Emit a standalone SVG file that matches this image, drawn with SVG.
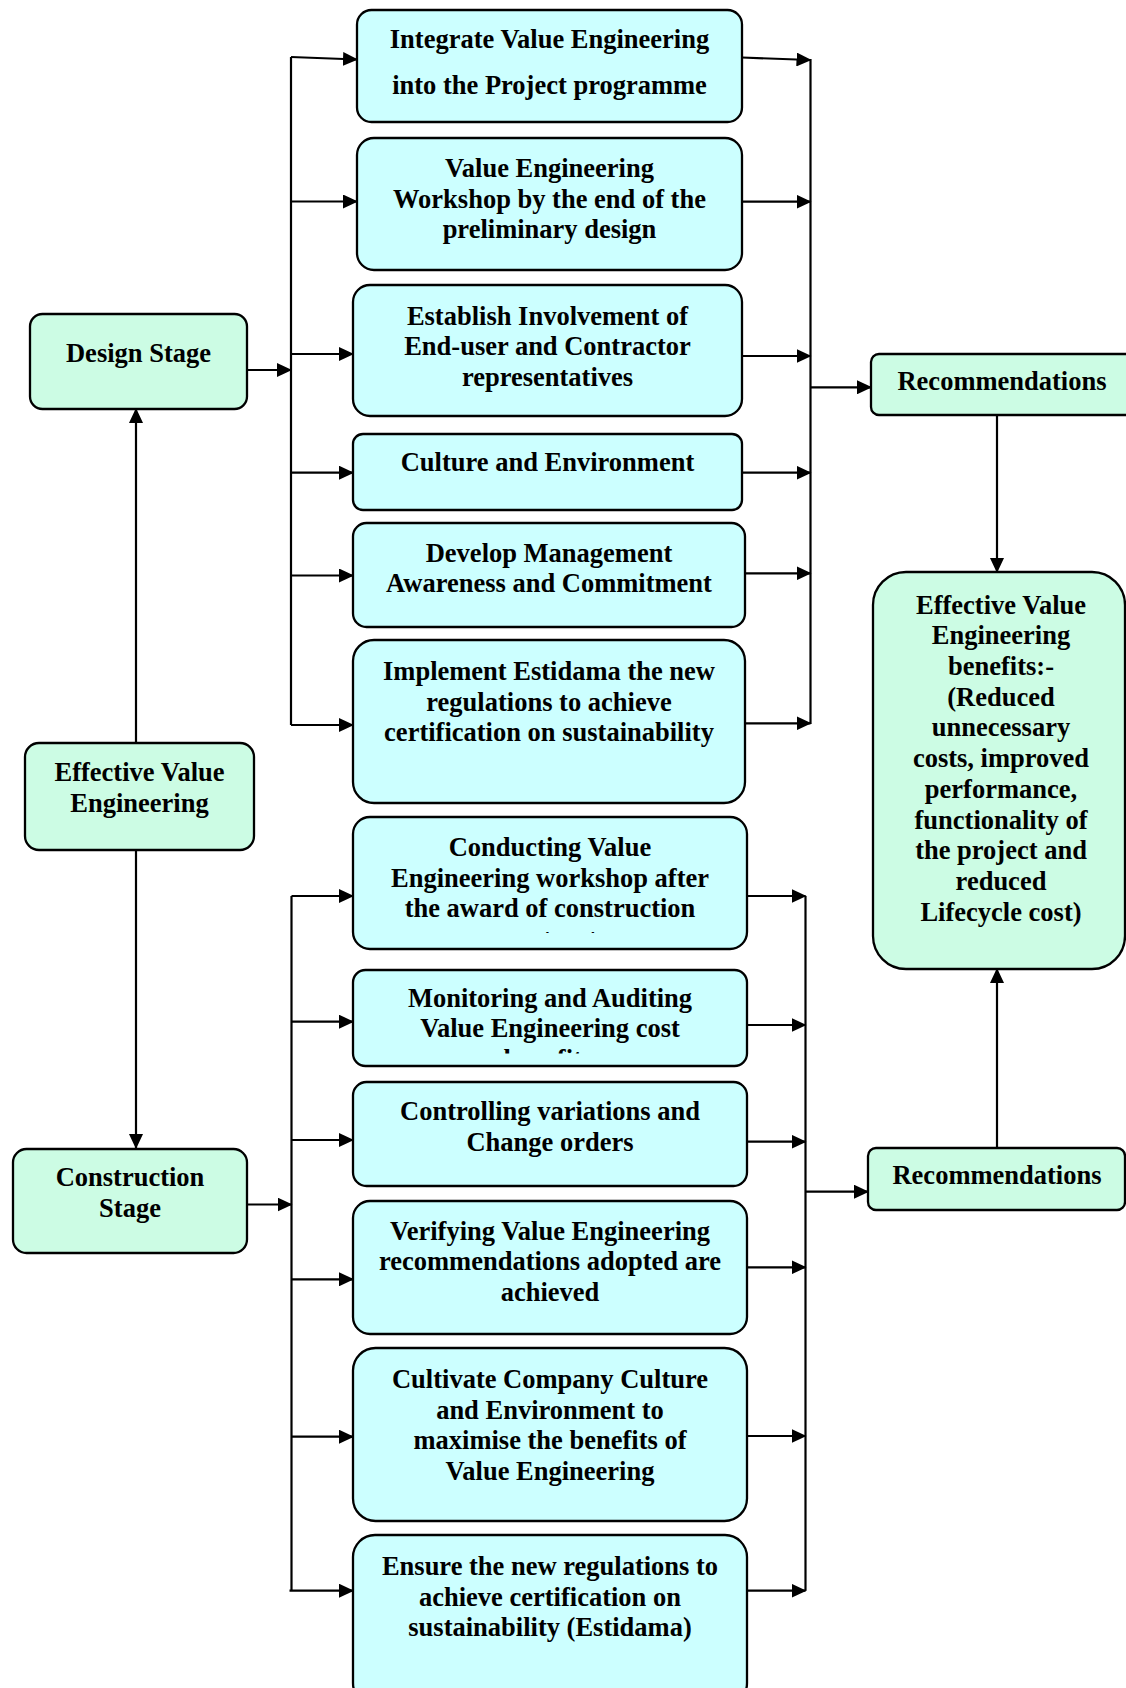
<svg xmlns="http://www.w3.org/2000/svg" width="1126" height="1688" viewBox="0 0 1126 1688">
  <defs>
    <style>
      .stage { fill: #CCFCE4; stroke: #000; stroke-width: 2.3; }
      .step { fill: #CCFFFF; stroke: #000; stroke-width: 2.3; }
      .lbl { font-family: "Liberation Serif", "Times New Roman", serif; font-weight: bold; font-size: 26.5px; fill: #000; text-anchor: middle; }
      .wire { fill: none; stroke: #000; stroke-width: 2.2; }
      .arrow { fill: none; stroke: #000; stroke-width: 2.2; marker-end: url(#head); }
    </style>
    <marker id="head" markerUnits="userSpaceOnUse" markerWidth="15" markerHeight="14" refX="14" refY="7" orient="auto">
      <path d="M0,0 L15,7 L0,14 Z" fill="#000"/>
    </marker>
    <!-- text that runs past the bottom of its box is cut off just above the x-height -->
    <clipPath id="clip-conducting"><rect x="353" y="817" width="394" height="116"/></clipPath>
    <clipPath id="clip-monitoring"><rect x="353" y="970" width="394" height="83.5"/></clipPath>
  </defs>

  <rect width="1126" height="1688" fill="#fff"/>

  <!-- connectors -->
  <g id="connectors">
    <!-- central hub to the two stages -->
    <path class="arrow" d="M136,743 V409"/>
    <path class="arrow" d="M136,850 V1148"/>

    <!-- design stage fan-out -->
    <path class="arrow" d="M247,370 H291"/>
    <path class="wire" d="M291,57 V725"/>
    <path class="arrow" d="M291,57 L357,59.5"/>
    <path class="arrow" d="M291,201.5 H357"/>
    <path class="arrow" d="M291,354 H353"/>
    <path class="arrow" d="M291,472.7 H353"/>
    <path class="arrow" d="M291,575.5 H353"/>
    <path class="arrow" d="M291,725 H353"/>

    <!-- design stage fan-in -->
    <path class="wire" d="M810.5,59 V724"/>
    <path class="arrow" d="M742,57.5 L810.5,60"/>
    <path class="arrow" d="M742,201.7 H810.5"/>
    <path class="arrow" d="M742,356 H810.5"/>
    <path class="arrow" d="M742,472.7 H810.5"/>
    <path class="arrow" d="M745,573.3 H810.5"/>
    <path class="arrow" d="M745,723.3 H810.5"/>
    <path class="arrow" d="M810.5,387.3 H871"/>
    <path class="arrow" d="M997,415 V572"/>

    <!-- construction stage fan-out -->
    <path class="arrow" d="M247,1204.5 H291.5"/>
    <path class="wire" d="M291.5,896 V1590.7"/>
    <path class="arrow" d="M291.5,896 H353"/>
    <path class="arrow" d="M291.5,1021.7 H353"/>
    <path class="arrow" d="M291.5,1140 H353"/>
    <path class="arrow" d="M291.5,1279.3 H353"/>
    <path class="arrow" d="M291.5,1436.7 H353"/>
    <path class="arrow" d="M289.5,1590.7 H353"/>

    <!-- construction stage fan-in -->
    <path class="wire" d="M805.5,896 V1590.7"/>
    <path class="arrow" d="M744,896 H805.5"/>
    <path class="arrow" d="M747,1025 H805.5"/>
    <path class="arrow" d="M747,1141.7 H805.5"/>
    <path class="arrow" d="M747,1267.3 H805.5"/>
    <path class="arrow" d="M747,1436 H805.5"/>
    <path class="arrow" d="M747,1590.7 H805.5"/>
    <path class="arrow" d="M805.5,1191.7 H868"/>
    <path class="arrow" d="M997,1148 V969"/>
  </g>

  <!-- stages and outcomes -->
  <g id="design-stage">
    <rect class="stage" x="30" y="314" width="217" height="95" rx="12.5"/>
    <text class="lbl" x="138.5" y="362">Design Stage</text>
  </g>
  <g id="effective-value-engineering">
    <rect class="stage" x="25" y="743" width="229" height="107" rx="14"/>
    <text class="lbl" x="139.5" y="781">Effective Value</text>
    <text class="lbl" x="139.5" y="811.5">Engineering</text>
  </g>
  <g id="construction-stage">
    <rect class="stage" x="13" y="1149" width="234" height="104" rx="13.5"/>
    <text class="lbl" x="130" y="1186">Construction</text>
    <text class="lbl" x="130" y="1216.5">Stage</text>
  </g>
  <g id="recommendations-design">
    <rect class="stage" x="871" y="354" width="275" height="61" rx="8"/>
    <text class="lbl" x="1002" y="390">Recommendations</text>
  </g>
  <g id="benefits">
    <rect class="stage" x="873" y="572" width="252" height="397" rx="33"/>
    <text class="lbl" x="1001" y="613.6">Effective Value</text>
    <text class="lbl" x="1001" y="644.3">Engineering</text>
    <text class="lbl" x="1001" y="675">benefits:-</text>
    <text class="lbl" x="1001" y="705.7">(Reduced</text>
    <text class="lbl" x="1001" y="736.4">unnecessary</text>
    <text class="lbl" x="1001" y="767.1">costs, improved</text>
    <text class="lbl" x="1001" y="797.8">performance,</text>
    <text class="lbl" x="1001" y="828.5">functionality of</text>
    <text class="lbl" x="1001" y="859.2">the project and</text>
    <text class="lbl" x="1001" y="889.9">reduced</text>
    <text class="lbl" x="1001" y="920.6">Lifecycle cost)</text>
  </g>
  <g id="recommendations-construction">
    <rect class="stage" x="868" y="1148" width="257" height="62" rx="8"/>
    <text class="lbl" x="997" y="1184">Recommendations</text>
  </g>

  <!-- design stage steps -->
  <g id="integrate-ve">
    <rect class="step" x="357" y="10" width="385" height="112" rx="14.5"/>
    <text class="lbl" x="549.5" y="47.5">Integrate Value Engineering</text>
    <text class="lbl" x="549.5" y="94">into the Project programme</text>
  </g>
  <g id="ve-workshop">
    <rect class="step" x="357" y="138" width="385" height="132" rx="17"/>
    <text class="lbl" x="549.5" y="177">Value Engineering</text>
    <text class="lbl" x="549.5" y="207.5">Workshop by the end of the</text>
    <text class="lbl" x="549.5" y="238">preliminary design</text>
  </g>
  <g id="involvement">
    <rect class="step" x="353" y="285" width="389" height="131" rx="17"/>
    <text class="lbl" x="547.5" y="324.5">Establish Involvement of</text>
    <text class="lbl" x="547.5" y="355">End-user and Contractor</text>
    <text class="lbl" x="547.5" y="385.5">representatives</text>
  </g>
  <g id="culture">
    <rect class="step" x="353" y="434" width="389" height="76" rx="10"/>
    <text class="lbl" x="547.5" y="470.5">Culture and Environment</text>
  </g>
  <g id="management">
    <rect class="step" x="353" y="523" width="392" height="104" rx="13.5"/>
    <text class="lbl" x="549" y="562">Develop Management</text>
    <text class="lbl" x="549" y="592">Awareness and Commitment</text>
  </g>
  <g id="estidama-design">
    <rect class="step" x="353" y="640" width="392" height="163" rx="21"/>
    <text class="lbl" x="549" y="680">Implement Estidama the new</text>
    <text class="lbl" x="549" y="710.5">regulations to achieve</text>
    <text class="lbl" x="549" y="741">certification on sustainability</text>
  </g>

  <!-- construction stage steps -->
  <g id="conducting-workshop">
    <rect class="step" x="353" y="817" width="394" height="132" rx="17"/>
    <text class="lbl" x="550" y="856">Conducting Value</text>
    <text class="lbl" x="550" y="886.5">Engineering workshop after</text>
    <text class="lbl" x="550" y="917">the award of construction</text>
    <text class="lbl" x="550" y="947.5" clip-path="url(#clip-conducting)">contract</text>
  </g>
  <g id="monitoring">
    <rect class="step" x="353" y="970" width="394" height="96" rx="12.5"/>
    <text class="lbl" x="550" y="1006.5">Monitoring and Auditing</text>
    <text class="lbl" x="550" y="1037">Value Engineering cost</text>
    <text class="lbl" x="548" y="1067.5" clip-path="url(#clip-monitoring)">benefits</text>
  </g>
  <g id="variations">
    <rect class="step" x="353" y="1082" width="394" height="104" rx="13.5"/>
    <text class="lbl" x="550" y="1120">Controlling variations and</text>
    <text class="lbl" x="550" y="1150.5">Change orders</text>
  </g>
  <g id="verifying">
    <rect class="step" x="353" y="1201" width="394" height="133" rx="17"/>
    <text class="lbl" x="550" y="1239.5">Verifying Value Engineering</text>
    <text class="lbl" x="550" y="1270">recommendations adopted are</text>
    <text class="lbl" x="550" y="1300.5">achieved</text>
  </g>
  <g id="company-culture">
    <rect class="step" x="353" y="1348" width="394" height="173" rx="22.5"/>
    <text class="lbl" x="550" y="1388">Cultivate Company Culture</text>
    <text class="lbl" x="550" y="1418.5">and Environment to</text>
    <text class="lbl" x="550" y="1449">maximise the benefits of</text>
    <text class="lbl" x="550" y="1479.5">Value Engineering</text>
  </g>
  <g id="estidama-construction">
    <rect class="step" x="353" y="1535" width="394" height="170" rx="22"/>
    <text class="lbl" x="550" y="1575">Ensure the new regulations to</text>
    <text class="lbl" x="550" y="1605.5">achieve certification on</text>
    <text class="lbl" x="550" y="1636">sustainability (Estidama)</text>
  </g>
</svg>
